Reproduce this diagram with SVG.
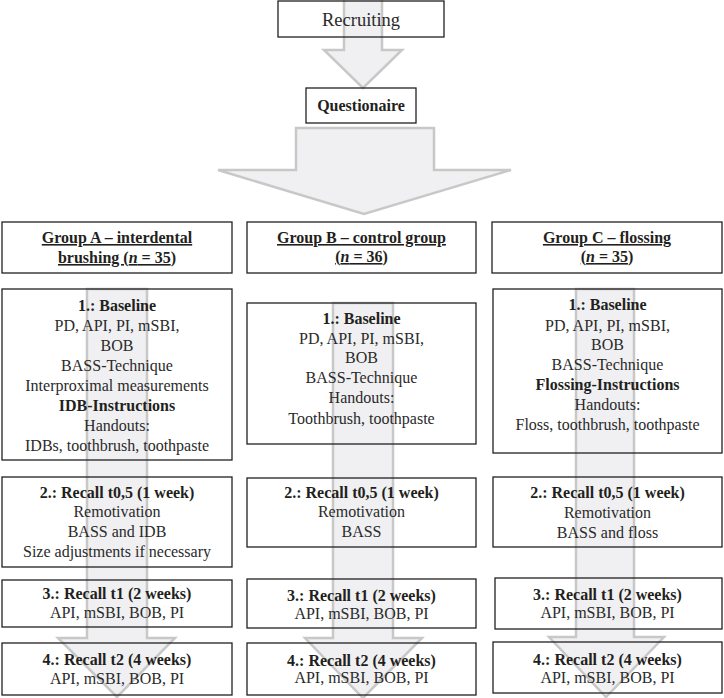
<svg xmlns="http://www.w3.org/2000/svg" width="724" height="698" viewBox="0 0 724 698" font-family="Liberation Serif, Times New Roman, DejaVu Serif, serif">
<style>
.box{fill:none;stroke:#231f20;stroke-width:1.3}
.arrow{fill:#f0f0f2;stroke:#c8c8c8;stroke-width:2.5;stroke-linejoin:miter}
.t{font-size:16px;fill:#2a2a2a;text-anchor:middle}
.b{font-weight:bold;fill:#231f20}
.u{text-decoration:underline}
</style>
<rect x="0" y="0" width="724" height="698" fill="#ffffff"/>
<g id="connectors">
<polygon class="arrow" points="344,-3 382,-3 382,50 402,50 363,88 324,50 344,50"/>
<polygon class="arrow" points="296,128 434,128 434,170 511,170 364,214 218,170 296,170"/>
<polygon class="arrow" points="87,289 147,289 147,638 175,638 117,697 58,638 87,638"/>
<polygon class="arrow" points="333,303 393,303 393,638 422,638 363,698 305,638 333,638"/>
<polygon class="arrow" points="576,289 634,289 634,637 664,637 606,697 549,637 576,637"/>
</g>
<g id="recruiting">
<rect class="box" x="278" y="1" width="166" height="36"/>
<text class="t" x="361" y="26" font-family="Liberation Serif" style="font-size:18.5px">Recruiting</text>
</g>
<g id="questionaire">
<rect class="box" x="306" y="88" width="110" height="35"/>
<text class="t b" x="361" y="111">Questionaire</text>
</g>
<g id="groupA">
<rect class="box" x="2" y="222" width="230" height="51"/>
<text class="t b" x="117" y="243"><tspan class="u">Group A – interdental</tspan></text>
<text class="t b" x="117" y="263"><tspan class="u">brushing (<tspan font-style="italic">n</tspan> = 35</tspan>)</text>
</g>
<g id="groupB">
<rect class="box" x="247" y="222" width="229" height="51"/>
<text class="t b" x="361.5" y="243"><tspan class="u">Group B – control group</tspan></text>
<text class="t b" x="361.5" y="262"><tspan class="u">(<tspan font-style="italic">n</tspan> = 36</tspan>)</text>
</g>
<g id="groupC">
<rect class="box" x="492" y="222" width="230" height="51"/>
<text class="t b" x="607" y="243"><tspan class="u">Group C – flossing</tspan></text>
<text class="t b" x="607" y="262"><tspan class="u">(<tspan font-style="italic">n</tspan> = 35</tspan>)</text>
</g>
<g id="baselineA">
<rect class="box" x="2" y="289" width="230" height="171"/>
<text class="t b" x="117" y="311">1.: Baseline</text>
<text class="t" x="117" y="331">PD, API, PI, mSBI,</text>
<text class="t" x="117" y="351">BOB</text>
<text class="t" x="117" y="371">BASS-Technique</text>
<text class="t" x="117" y="391">Interproximal measurements</text>
<text class="t b" x="117" y="411">IDB-Instructions</text>
<text class="t" x="117" y="431">Handouts:</text>
<text class="t" x="117" y="451">IDBs, toothbrush, toothpaste</text>
</g>
<g id="baselineB">
<rect class="box" x="247" y="303" width="229" height="141"/>
<text class="t b" x="361.5" y="324">1.: Baseline</text>
<text class="t" x="361.5" y="344">PD, API, PI, mSBI,</text>
<text class="t" x="361.5" y="363">BOB</text>
<text class="t" x="361.5" y="383">BASS-Technique</text>
<text class="t" x="361.5" y="403">Handouts:</text>
<text class="t" x="361.5" y="424">Toothbrush, toothpaste</text>
</g>
<g id="baselineC">
<rect class="box" x="493" y="289" width="229" height="164"/>
<text class="t b" x="607.5" y="310">1.: Baseline</text>
<text class="t" x="607.5" y="331">PD, API, PI, mSBI,</text>
<text class="t" x="607.5" y="350">BOB</text>
<text class="t" x="607.5" y="370">BASS-Technique</text>
<text class="t b" x="607.5" y="390">Flossing-Instructions</text>
<text class="t" x="607.5" y="410">Handouts:</text>
<text class="t" x="607.5" y="430">Floss, toothbrush, toothpaste</text>
</g>
<g id="recall05A">
<rect class="box" x="2" y="477" width="230" height="90"/>
<text class="t b" x="117" y="498">2.: Recall t0,5 (1 week)</text>
<text class="t" x="117" y="517">Remotivation</text>
<text class="t" x="117" y="537">BASS and IDB</text>
<text class="t" x="117" y="557">Size adjustments if necessary</text>
</g>
<g id="recall05B">
<rect class="box" x="247" y="478" width="229" height="69"/>
<text class="t b" x="361.5" y="498">2.: Recall t0,5 (1 week)</text>
<text class="t" x="361.5" y="517">Remotivation</text>
<text class="t" x="361.5" y="537">BASS</text>
</g>
<g id="recall05C">
<rect class="box" x="493" y="477" width="229" height="70"/>
<text class="t b" x="607.5" y="498">2.: Recall t0,5 (1 week)</text>
<text class="t" x="607.5" y="518">Remotivation</text>
<text class="t" x="607.5" y="538">BASS and floss</text>
</g>
<g id="recall1A">
<rect class="box" x="2" y="580" width="230" height="47"/>
<text class="t b" x="117" y="599">3.: Recall t1 (2 weeks)</text>
<text class="t" x="117" y="618">API, mSBI, BOB, PI</text>
</g>
<g id="recall1B">
<rect class="box" x="247" y="579" width="229" height="49"/>
<text class="t b" x="361.5" y="601">3.: Recall t1 (2 weeks)</text>
<text class="t" x="361.5" y="619">API, mSBI, BOB, PI</text>
</g>
<g id="recall1C">
<rect class="box" x="495" y="578" width="227" height="51"/>
<text class="t b" x="607.5" y="600">3.: Recall t1 (2 weeks)</text>
<text class="t" x="607.5" y="618">API, mSBI, BOB, PI</text>
</g>
<g id="recall2A">
<rect class="box" x="2" y="643" width="230" height="52"/>
<text class="t b" x="117" y="665">4.: Recall t2 (4 weeks)</text>
<text class="t" x="117" y="684">API, mSBI, BOB, PI</text>
</g>
<g id="recall2B">
<rect class="box" x="247" y="643" width="229" height="52"/>
<text class="t b" x="361.5" y="666">4.: Recall t2 (4 weeks)</text>
<text class="t" x="361.5" y="683">API, mSBI, BOB, PI</text>
</g>
<g id="recall2C">
<rect class="box" x="493" y="642" width="229" height="51"/>
<text class="t b" x="607.5" y="665">4.: Recall t2 (4 weeks)</text>
<text class="t" x="607.5" y="683">API, mSBI, BOB, PI</text>
</g>
</svg>
